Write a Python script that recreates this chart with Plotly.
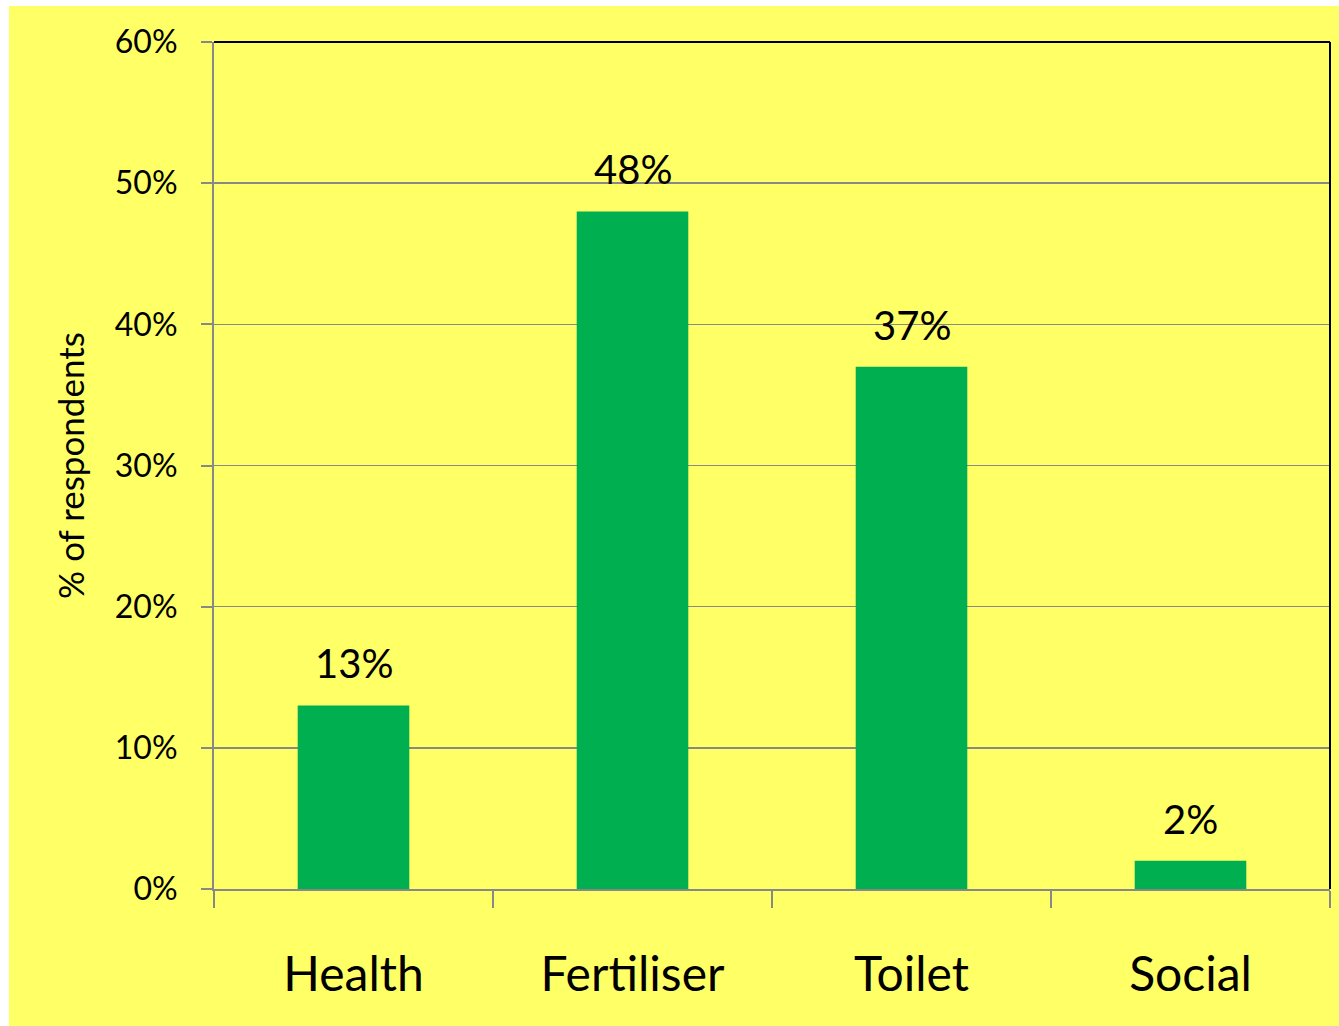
import plotly.graph_objects as go

categories = ["Health", "Fertiliser", "Toilet", "Social"]
values = [13, 48, 37, 2]
labels = ["13%", "48%", "37%", "2%"]
y_ticks = [0, 10, 20, 30, 40, 50, 60]
y_tick_text = ["0%", "10%", "20%", "30%", "40%", "50%", "60%"]

FONT = "Lato"
W, H = 1339, 1026
L, R, T, B = 214, 9, 42, 137
pw, ph = W - L - R, H - T - B

fig = go.Figure()
fig.add_trace(go.Bar(
    x=categories, y=values, marker=dict(color="#00B050", line=dict(width=0)),
    width=0.4, hoverinfo="skip",
))
for c, v, t in zip(categories, values, labels):
    fig.add_annotation(x=c, y=v, text=t, showarrow=False, yanchor="bottom",
                       yshift=16, font=dict(family=FONT, size=40, color="black"))

# yellow background block (white margin top/left)
fig.add_shape(type="rect", xref="paper", yref="paper",
              x0=(9 - L) / pw, x1=(W - L) / pw + 0.01,
              y0=-(B) / ph - 0.01, y1=1 + (T - 6) / ph,
              fillcolor="#FFFF66", line=dict(width=0), layer="below")
# top and right frame lines
fig.add_shape(type="line", xref="paper", yref="paper", x0=0, x1=1, y0=1, y1=1,
              line=dict(color="black", width=2))
fig.add_shape(type="line", xref="paper", yref="paper", x0=1, x1=1, y0=0, y1=1,
              line=dict(color="black", width=2))

fig.update_layout(
    width=W, height=H,
    margin=dict(l=L, r=R, t=T, b=B),
    paper_bgcolor="white", plot_bgcolor="rgba(0,0,0,0)",
    showlegend=False, bargap=0.6,
    font=dict(family=FONT, color="black"),
)
fig.update_xaxes(
    showgrid=False, showline=True, linecolor="#888888", linewidth=2,
    ticks="outside", tickson="boundaries", ticklen=17, tickcolor="#888888", tickwidth=2,
    tickfont=dict(family=FONT, size=48, color="black"), ticklabelstandoff=42,
)
fig.update_yaxes(
    range=[0, 60], tickvals=y_ticks, ticktext=y_tick_text,
    showgrid=True, gridcolor="#888888", gridwidth=1.5,
    showline=True, linecolor="#888888", linewidth=2, zeroline=False,
    ticks="outside", ticklen=11, tickcolor="#888888", tickwidth=2,
    tickfont=dict(family=FONT, size=32, color="black"), ticklabelstandoff=17,
    title=dict(text="% of respondents", font=dict(family=FONT, size=35, color="black"), standoff=20),
)

fig.write_html(
    "out.html",
    config={"displayModeBar": False, "staticPlot": True},
    post_script="document.body.style.margin='0';document.body.style.overflow='hidden';",
)
